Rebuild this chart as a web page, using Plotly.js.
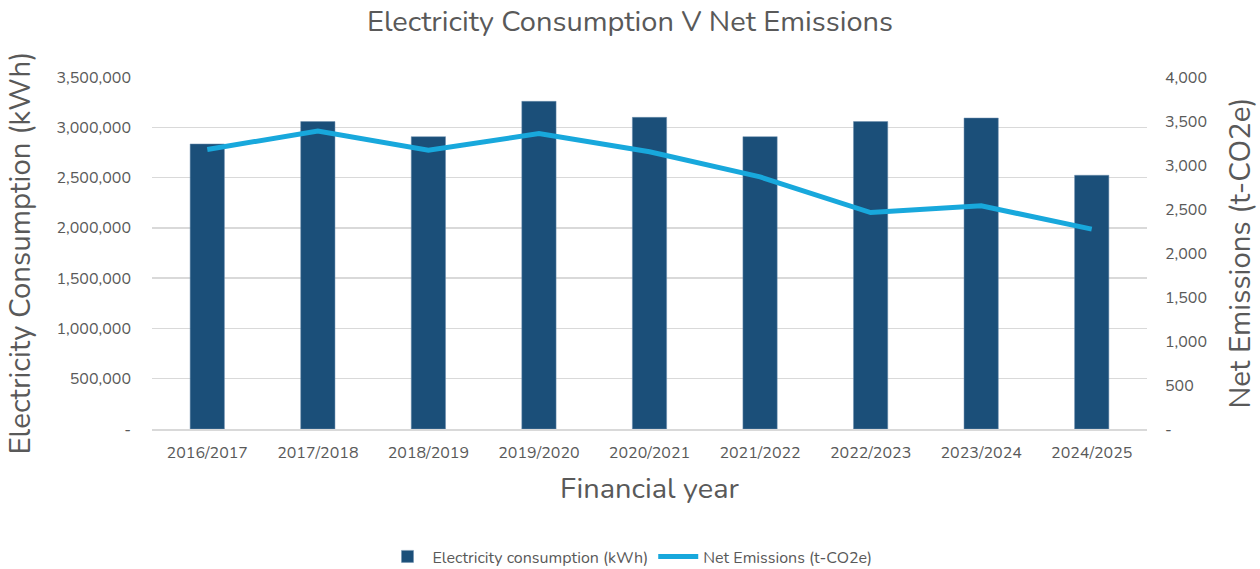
<!DOCTYPE html>
<html><head><meta charset="utf-8">
<script src="https://cdn.plot.ly/plotly-3.0.1.min.js"></script>
<style>html,body{margin:0;padding:0;background:#fff}#c{width:1260px;height:569px}</style>
</head><body><div id="c"></div>
<script>
const years = ["2016/2017","2017/2018","2018/2019","2019/2020","2020/2021","2021/2022","2022/2023","2023/2024","2024/2025"];
const consumption = [2834000,3057000,2907000,3258000,3099000,2907000,3057000,3092000,2523000];
const emissions = [3176,3387,3168,3357,3150,2865,2460,2536,2271];
const leftTickVals = [0,500000,1000000,1500000,2000000,2500000,3000000,3500000];
const leftTickText = ["-","500,000","1,000,000","1,500,000","2,000,000","2,500,000","3,000,000","3,500,000"];
const rightTickVals = [0,500,1000,1500,2000,2500,3000,3500,4000];
const rightTickText = ["-","500","1,000","1,500","2,000","2,500","3,000","3,500","4,000"];

const font = "Nunito, 'Open Sans', Lato, sans-serif";
const data = [
  {type:"bar", x:years, y:consumption, name:"Electricity consumption (kWh)",
   marker:{color:"#1b4f79", line:{color:"#6d8fae", width:0.5}}, yaxis:"y"},
  {type:"scatter", mode:"lines", x:years, y:emissions, name:"Net Emissions (t-CO2e)",
   line:{color:"#18a8dc", width:5}, yaxis:"y2"}
];
const layout = {
  width:1260, height:569,
  margin:{l:152, r:113, t:77, b:140},
  paper_bgcolor:"#fff", plot_bgcolor:"#fff",
  font:{family:font, color:"#595959", size:16},
  title:{text:"Electricity Consumption V Net Emissions", x:0.5, xanchor:"center", y:0.963, yanchor:"middle",
    font:{size:29, color:"#595959", family:font}},
  bargap:0.69,
  showlegend:true,
  legend:{orientation:"h", x:0.5, xanchor:"center", xref:"container", yref:"container", y:0.022, yanchor:"middle",
    font:{size:16, color:"#595959"}, itemwidth:40},
  xaxis:{type:"category", showgrid:false, showline:true, linecolor:"#d9d9d9", linewidth:1.5,
    ticks:"", tickfont:{size:16, color:"#595959"}, ticklabelstandoff:8,
    title:{text:"Financial year", font:{size:29, color:"#595959"}, standoff:15}},
  yaxis:{range:[0,3500000], tickvals:leftTickVals, ticktext:leftTickText,
    gridcolor:"#d9d9d9", gridwidth:1.5, zeroline:false, showline:false, ticks:"",
    tickfont:{size:16, color:"#595959"}, ticklabelstandoff:20,
    title:{text:"Electricity Consumption (kWh)", font:{size:29.5, color:"#595959"}, standoff:22}},
  yaxis2:{range:[0,4000], overlaying:"y", side:"right", tickvals:rightTickVals, ticktext:rightTickText,
    showgrid:false, zeroline:false, showline:false, ticks:"",
    tickfont:{size:16, color:"#595959"}, ticklabelstandoff:17,
    title:{text:"Net Emissions (t-CO2e)", font:{size:29.5, color:"#595959"}, standoff:24}}
};
Plotly.newPlot("c", data, layout, {displayModeBar:false, staticPlot:true});
</script></body></html>
